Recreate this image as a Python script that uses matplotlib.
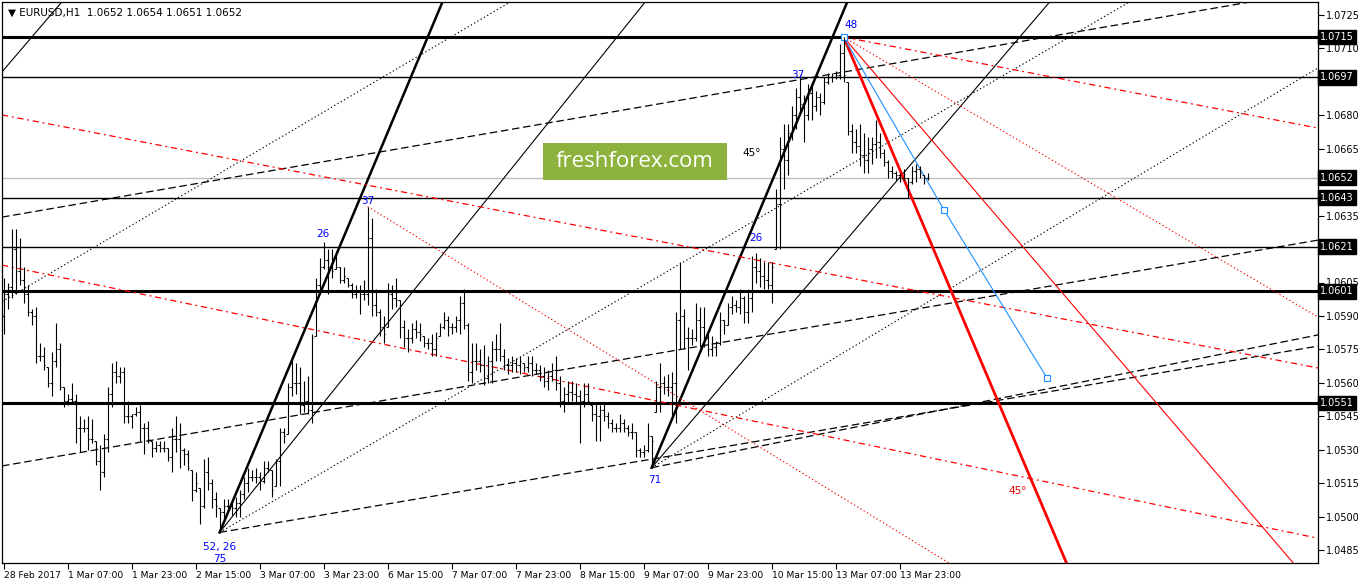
import numpy as np
import matplotlib.pyplot as plt
import matplotlib.transforms as mtransforms
from matplotlib.patches import Rectangle

# EURUSD H1 bars, prices in 1/10000
highs = [
    10607, 10605, 10629, 10629, 10625, 10612, 10604, 10593, 10594, 10578,
    10576, 10567, 10574, 10587, 10578, 10558, 10555, 10560, 10555, 10545,
    10544, 10545, 10544, 10534, 10532, 10537, 10558, 10569, 10570, 10567,
    10567, 10552, 10546, 10549, 10550, 10542, 10543, 10534, 10534, 10534,
    10534, 10531, 10540, 10545, 10542, 10531, 10530, 10521, 10520, 10513,
    10526, 10527, 10517, 10511, 10504, 10508, 10508, 10508, 10509, 10512,
    10518, 10522, 10521, 10522, 10520, 10525, 10525, 10521, 10526, 10540,
    10540, 10560, 10572, 10569, 10567, 10561, 10563, 10582, 10607, 10616,
    10623, 10620, 10620, 10619, 10612, 10612, 10607, 10605, 10604, 10604,
    10606, 10639, 10634, 10602, 10593, 10590, 10605, 10604, 10607, 10597,
    10588, 10584, 10587, 10588, 10587, 10581, 10580, 10582, 10583, 10587,
    10592, 10590, 10587, 10590, 10599, 10602, 10587, 10578, 10578, 10575,
    10577, 10572, 10579, 10582, 10587, 10575, 10571, 10572, 10571, 10572,
    10569, 10572, 10572, 10569, 10568, 10567, 10566, 10569, 10572, 10563,
    10558, 10561, 10561, 10560, 10557, 10560, 10560, 10550, 10551, 10550,
    10551, 10547, 10544, 10542, 10546, 10544, 10541, 10542, 10538, 10531,
    10532, 10542, 10536, 10561, 10569, 10563, 10564, 10565, 10592, 10614,
    10593, 10585, 10584, 10596, 10594, 10594, 10582, 10581, 10579, 10592,
    10588, 10596, 10599, 10597, 10602, 10599, 10602, 10617, 10618, 10616,
    10614, 10614, 10614, 10647, 10670, 10676, 10676, 10684, 10692, 10698,
    10689, 10694, 10695, 10691, 10690, 10697, 10699, 10699, 10700, 10712,
    10715, 10695, 10676, 10674, 10676, 10672, 10670, 10670, 10678, 10672,
    10665, 10660, 10657, 10655, 10654, 10656, 10652, 10657, 10658, 10657,
    10653, 10654,
]
lows = [
    10582, 10593, 10598, 10600, 10604, 10596, 10590, 10586, 10569, 10570,
    10566, 10558, 10554, 10567, 10557, 10549, 10550, 10551, 10533, 10529,
    10538, 10530, 10533, 10523, 10512, 10518, 10529, 10549, 10560, 10560,
    10542, 10542, 10540, 10545, 10534, 10528, 10533, 10527, 10529, 10529,
    10529, 10525, 10520, 10529, 10522, 10523, 10521, 10507, 10511, 10497,
    10504, 10512, 10504, 10500, 10493, 10499, 10503, 10501, 10500, 10500,
    10508, 10511, 10516, 10515, 10512, 10515, 10520, 10509, 10514, 10514,
    10533, 10537, 10554, 10555, 10546, 10547, 10546, 10542, 10581, 10601,
    10611, 10600, 10607, 10611, 10605, 10605, 10603, 10598, 10598, 10591,
    10597, 10595, 10590, 10590, 10581, 10578, 10585, 10593, 10594, 10580,
    10576, 10574, 10578, 10580, 10579, 10576, 10575, 10572, 10572, 10581,
    10584, 10581, 10582, 10583, 10582, 10584, 10561, 10560, 10566, 10565,
    10559, 10560, 10560, 10570, 10570, 10566, 10564, 10565, 10565, 10564,
    10565, 10565, 10563, 10564, 10561, 10558, 10557, 10561, 10557, 10549,
    10547, 10551, 10552, 10551, 10533, 10549, 10551, 10543, 10534, 10534,
    10543, 10540, 10538, 10538, 10538, 10538, 10536, 10535, 10527, 10527,
    10527, 10529, 10522, 10547, 10547, 10555, 10554, 10545, 10542, 10575,
    10575, 10566, 10577, 10579, 10576, 10576, 10572, 10572, 10572, 10577,
    10582, 10586, 10591, 10592, 10591, 10587, 10587, 10592, 10605, 10603,
    10602, 10602, 10596, 10620, 10620, 10647, 10653, 10669, 10674, 10681,
    10668, 10678, 10678, 10682, 10680, 10685, 10694, 10695, 10696, 10696,
    10695, 10671, 10663, 10663, 10657, 10654, 10654, 10658, 10661, 10661,
    10657, 10652, 10652, 10651, 10650, 10651, 10643, 10649, 10650, 10652,
    10649, 10651,
]
closes = [
    10600, 10603, 10620, 10610, 10606, 10600, 10592, 10590, 10572, 10572,
    10568, 10560, 10570, 10575, 10558, 10552, 10553, 10552, 10540, 10540,
    10540, 10535, 10535, 10525, 10520, 10535, 10555, 10565, 10563, 10565,
    10545, 10545, 10546, 10547, 10540, 10540, 10535, 10531, 10532, 10531,
    10531, 10527, 10535, 10535, 10530, 10528, 10522, 10512, 10515, 10505,
    10520, 10515, 10508, 10505, 10502, 10505, 10505, 10504, 10506, 10510,
    10515, 10518, 10518, 10518, 10516, 10522, 10521, 10512, 10525, 10538,
    10536, 10558, 10560, 10560, 10550, 10552, 10548, 10580, 10604, 10612,
    10615, 10612, 10610, 10612, 10606, 10608, 10604, 10600, 10601, 10600,
    10600, 10625, 10595, 10592, 10585, 10582, 10600, 10598, 10597, 10585,
    10580, 10580, 10584, 10583, 10582, 10578, 10578, 10575, 10580, 10585,
    10588, 10585, 10585, 10588, 10596, 10586, 10565, 10570, 10570, 10568,
    10562, 10570, 10575, 10575, 10572, 10568, 10568, 10569, 10568, 10570,
    10567, 10569, 10566, 10566, 10563, 10561, 10563, 10566, 10560, 10552,
    10555, 10556, 10555, 10554, 10552, 10555, 10552, 10546, 10545, 10548,
    10545, 10542, 10540, 10540, 10542, 10540, 10538, 10538, 10530, 10529,
    10530, 10536, 10534, 10558, 10560, 10558, 10558, 10560, 10588, 10590,
    10580, 10580, 10580, 10588, 10585, 10580, 10575, 10576, 10578, 10588,
    10586, 10594, 10595, 10594, 10598, 10592, 10598, 10612, 10610, 10608,
    10606, 10604, 10612, 10640, 10665, 10660, 10672, 10680, 10688, 10685,
    10680, 10690, 10684, 10688, 10686, 10695, 10697, 10697, 10698, 10708,
    10698, 10673, 10668, 10666, 10662, 10660, 10665, 10667, 10668, 10663,
    10659, 10655, 10654, 10653, 10652, 10652, 10650, 10655, 10656, 10654,
    10652, 10652,
]
first_open = 10590

time_labels = ["28 Feb 2017", "1 Mar 07:00", "1 Mar 23:00", "2 Mar 15:00",
               "3 Mar 07:00", "3 Mar 23:00", "6 Mar 15:00", "7 Mar 07:00",
               "7 Mar 23:00", "8 Mar 15:00", "9 Mar 07:00", "9 Mar 23:00",
               "10 Mar 15:00", "13 Mar 07:00", "13 Mar 23:00"]
bars_per_label = 16

levels = [1.0715, 1.0697, 1.0643, 1.0621, 1.0601, 1.0551]
level_lw = [2.2, 1.0, 1.0, 1.0, 2.2, 2.2]
bid = 1.0652

# trend lines: (bar0, price0, bar1, price1, colour, width, dashes)
SOLID = None
LONG = (6, 3)
DOT = (1.2, 2.2)
DASHDOT = (5, 3, 1.5, 3)
trend_lines = [
    (54, 1.0493, 120, 1.07746, "black", 1.8, SOLID),
    (162, 1.0522, 228, 1.08036, "black", 1.8, SOLID),
    (54, 1.0493, 200, 1.08192, "black", 0.8, SOLID),
    (162, 1.0522, 300, 1.08114, "black", 0.8, SOLID),
    (-20, 1.06583, 30, 1.07631, "black", 0.8, SOLID),
    (-20, 1.05757, 140, 1.07448, "black", 0.8, DOT),
    (54, 1.0493, 300, 1.07501, "black", 0.8, DOT),
    (162, 1.0522, 340, 1.07134, "black", 0.8, DOT),
    (-0.4, 1.06343, 311.6, 1.07307, "black", 0.9, LONG),
    (-0.4, 1.05228, 328.6, 1.06240, "black", 0.9, LONG),
    (54, 1.0493, 328.6, 1.05765, "black", 0.9, LONG),
    (162, 1.0522, 328.6, 1.05815, "black", 0.9, LONG),
    (-0.4, 1.06801, 328.6, 1.05667, "red", 0.9, DASHDOT),
    (-0.4, 1.06128, 328.6, 1.04904, "red", 0.9, DASHDOT),
    (210, 1.0715, 328.6, 1.06742, "red", 0.9, DASHDOT),
    (91, 1.0639, 260, 1.04533, "red", 0.8, DOT),
    (210, 1.0715, 328.6, 1.05895, "red", 0.8, DOT),
    (210, 1.0715, 330, 1.04634, "red", 0.8, SOLID),
    (210, 1.0715, 280, 1.04189, "red", 2.0, SOLID),
]
blue_bars = [210, 235.1, 260.85]
blue_prices = [1.0715, 1.06375, 1.05622]

blue_notes = [("48", 211.9, 1.07204), ("37", 198.6, 1.06979),
              ("26", 188.1, 1.06249), ("71", 162.9, 1.05165),
              ("37", 91.1, 1.06415), ("26", 79.9, 1.06267),
              ("52, 26", 54.1, 1.04865), ("75", 54.1, 1.04811)]

h = np.array(highs) / 1e4
l = np.array(lows) / 1e4
c = np.array(closes) / 1e4
o = np.clip(np.concatenate([[first_open / 1e4], c[:-1]]), l, h)
x = np.arange(len(h))

fig = plt.figure(figsize=(13.58, 5.84), dpi=100)
ax = fig.add_axes([2 / 1358, 21 / 584, 1316 / 1358, 561 / 584])
ax.set_xlim(-0.4, 328.6)
ax.set_ylim(1.04793, 1.07307)

for lvl, lw in zip(levels, level_lw):
    ax.axhline(lvl, color="black", lw=lw, zorder=1)
ax.axhline(bid, color="#c0c0c0", lw=1, zorder=1)

for x0, p0, x1, p1, col, lw, ds in trend_lines:
    line, = ax.plot([x0, x1], [p0, p1], color=col, lw=lw, zorder=2)
    if ds:
        line.set_dashes(ds)

ax.plot(blue_bars, blue_prices, color="#1e90ff", lw=0.8, zorder=3)
ax.plot(blue_bars, blue_prices, ls="none", marker="s", ms=4, mfc="white",
        mec="#1e90ff", mew=0.8, zorder=4)

ax.vlines(x, l, h, color="black", lw=0.8, zorder=5)
ax.hlines(o, x - 0.4, x, color="black", lw=0.8, zorder=5)
ax.hlines(c, x, x + 0.4, color="black", lw=0.8, zorder=5)

for txt, bx, py in blue_notes:
    ax.text(bx, py, txt, color="#0000ff", fontsize=7.5, ha="center",
            va="center", zorder=6)
ax.text(187.1, 1.0663, "45°", color="black", fontsize=7.5, ha="center",
        va="center")
ax.text(253.6, 1.05116, "45°", color="#e00000", fontsize=7.5, ha="center",
        va="center")

ax.text(0.0046, 0.99, "▼ EURUSD,H1  1.0652 1.0654 1.0651 1.0652",
        transform=ax.transAxes, fontsize=7.5, va="top", ha="left")

# axes ticks; labels hidden by the level boxes are left blank
yt = np.arange(10485, 10726, 15) / 1e4
hidden = {"1.0695", "1.0650", "1.0620"}
ax.yaxis.tick_right()
ax.set_yticks(yt)
ax.set_yticklabels(["" if f"{v:.4f}" in hidden else f"{v:.4f}" for v in yt])
xt = np.arange(len(time_labels)) * bars_per_label
ax.set_xticks(xt)
ax.set_xticklabels(time_labels, ha="left", fontsize=6.6)
off = mtransforms.ScaledTranslation(1 / 100, 0, fig.dpi_scale_trans)
for lab in ax.get_xticklabels():
    lab.set_transform(lab.get_transform() + off)
ax.tick_params(axis="y", labelsize=7)
ax.tick_params(axis="both", direction="out", length=4, width=0.8,
               pad=2, colors="black")
for sp in ax.spines.values():
    sp.set_linewidth(0.9)

trans = mtransforms.blended_transform_factory(ax.transAxes, ax.transData)
for lvl in levels + [bid]:
    ax.text(1.0016, lvl, f"{lvl:.4f}", transform=trans, color="white",
            fontsize=7, ha="left", va="center", clip_on=False, zorder=10,
            bbox=dict(boxstyle="square,pad=0.25", fc="black", ec="black"))

# watermark
fig.patches.append(Rectangle((543 / 1358, 1 - 180 / 584), 184 / 1358,
                             37 / 584, transform=fig.transFigure,
                             fc="#8db23e", ec="none", zorder=20))
fig.text(635 / 1358, 1 - 161.5 / 584, "freshforex.com", color="white",
         fontsize=16, family="Open Sans", ha="center", va="center", zorder=21)

fig.savefig("out.png", dpi=100)
